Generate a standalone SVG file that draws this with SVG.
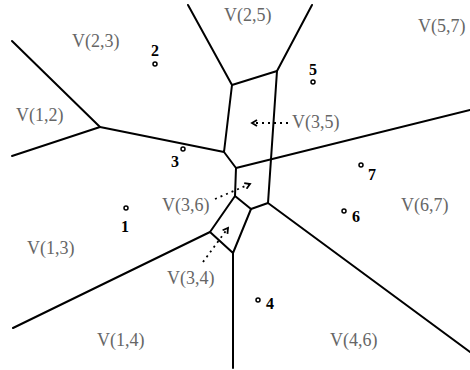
<svg xmlns="http://www.w3.org/2000/svg" width="470" height="370" viewBox="0 0 470 370">
<style>
.e{stroke:#000;stroke-width:2;fill:none;stroke-linejoin:round;stroke-linecap:round}
.lab{font-family:"Liberation Serif",serif;font-size:18px;fill:#666}
.num{font-family:"Liberation Serif",serif;font-size:16px;font-weight:bold;fill:#000;text-anchor:middle}
.pt{fill:#fff;stroke:#000;stroke-width:1.5}
.d{stroke:#000;stroke-width:1.8;stroke-dasharray:2 4;fill:none}
</style>
<defs>
<marker id="ah" viewBox="0 0 8 8" refX="6" refY="4" markerWidth="8" markerHeight="8" markerUnits="userSpaceOnUse" orient="auto">
<path d="M1,1 L6,4 L1,7" fill="none" stroke="#000" stroke-width="1.8"/>
</marker>
</defs>
<rect width="470" height="370" fill="#fff"/>
<g id="edges">
<polyline class="e" points="12,41 100,127 224,152 236,168 235,196 251,209 268,203 277,71 232,85 224,152"/>
<line class="e" x1="12" y1="156" x2="100" y2="127"/>
<line class="e" x1="188" y1="5" x2="232" y2="85"/>
<line class="e" x1="277" y1="71" x2="312" y2="5"/>
<line class="e" x1="236" y1="168" x2="470" y2="110"/>
<line class="e" x1="268" y1="203" x2="470" y2="352"/>
<polyline class="e" points="235,196 210,232 233,253 251,209"/>
<line class="e" x1="210" y1="232" x2="13" y2="328"/>
<line class="e" x1="233" y1="253" x2="233" y2="368"/>
</g>
<g id="arrows">
<line class="d" x1="288" y1="123" x2="252" y2="123" marker-end="url(#ah)"/>
<line class="d" x1="215" y1="199" x2="250" y2="184" marker-end="url(#ah)"/>
<line class="d" x1="203" y1="262" x2="228" y2="228" marker-end="url(#ah)"/>
</g>
<g id="sites">
<g id="p1"><circle class="pt" cx="126" cy="208" r="2"/><text class="num" x="125" y="232">1</text></g>
<g id="p2"><circle class="pt" cx="155" cy="64" r="2"/><text class="num" x="155" y="56">2</text></g>
<g id="p3"><circle class="pt" cx="183" cy="149" r="2"/><text class="num" x="175" y="167">3</text></g>
<g id="p4"><circle class="pt" cx="258" cy="300" r="2"/><text class="num" x="270" y="309">4</text></g>
<g id="p5"><circle class="pt" cx="313" cy="82" r="2"/><text class="num" x="313" y="75">5</text></g>
<g id="p6"><circle class="pt" cx="344" cy="211" r="2"/><text class="num" x="356" y="222">6</text></g>
<g id="p7"><circle class="pt" cx="361" cy="165" r="2"/><text class="num" x="372" y="180">7</text></g>
</g>
<g id="labels">
<text class="lab" x="72" y="47">V(2,3)</text>
<text class="lab" x="224" y="21">V(2,5)</text>
<text class="lab" x="418" y="32">V(5,7)</text>
<text class="lab" x="16" y="121">V(1,2)</text>
<text class="lab" x="292" y="128">V(3,5)</text>
<text class="lab" x="162" y="211">V(3,6)</text>
<text class="lab" x="401" y="211">V(6,7)</text>
<text class="lab" x="27" y="254">V(1,3)</text>
<text class="lab" x="167" y="284">V(3,4)</text>
<text class="lab" x="97" y="346">V(1,4)</text>
<text class="lab" x="330" y="346">V(4,6)</text>
</g>
</svg>
